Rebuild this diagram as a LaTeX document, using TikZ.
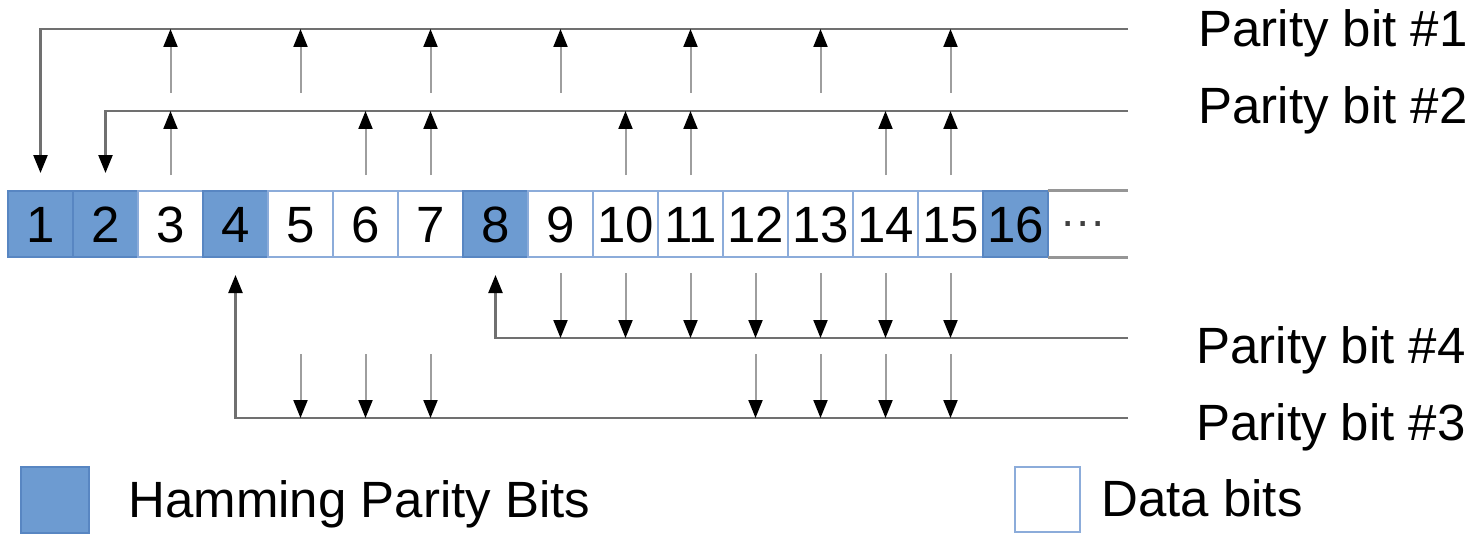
\documentclass[tikz,border=0pt]{standalone}
\usepackage{fontspec}
\setmainfont{Liberation Sans}
\usetikzlibrary{arrows.meta}
\definecolor{parityfill}{RGB}{109,155,209}
\definecolor{paritydraw}{RGB}{88,134,194}
\definecolor{datadraw}{RGB}{140,172,218}
\definecolor{busgray}{RGB}{112,112,112}
\definecolor{stemgray}{RGB}{158,158,158}
\definecolor{endgray}{RGB}{150,150,150}
\tikzset{
  cellbase/.style={minimum width=32.5pt, minimum height=33pt, inner sep=0pt, line width=0.7pt},
  digits/.style={text height=0.716em, text depth=0pt},
  paritycell/.style={cellbase, digits, fill=parityfill, draw=paritydraw},
  datacell/.style={cellbase, digits, fill=white, draw=datadraw},
  tip/.style={-{Triangle[width=7pt,length=9pt,color=black]}},
  bus/.style={draw=busgray, line width=1.2pt},
  stem/.style={draw=stemgray, line width=1pt, tip},
  label/.style={anchor=base west, inner sep=0pt},
}
\begin{document}
\begin{tikzpicture}[x=0.5pt, y=-0.5pt]
\fontsize{25.5pt}{30pt}\selectfont
\useasboundingbox (0,0) rectangle (1477,535);

% the row of bit cells
\foreach \i in {1,...,16}{
  \pgfmathtruncatemacro{\ispar}{(\i==1)||(\i==2)||(\i==4)||(\i==8)||(\i==16)}
  \ifnum\ispar=1
    \node[paritycell] (c\i) at ({8+65*(\i-0.5)},224) {\i};
  \else
    \node[datacell] (c\i) at ({8+65*(\i-0.5)},224) {\i};
  \fi
}
% open end of the row
\node[minimum width=40pt, minimum height=33pt, inner sep=0pt] (more) at (1088,224) {};
\node[inner sep=0pt, text=black!75, font=\fontsize{23pt}{26pt}\selectfont] (dots) at (1083,229) {···};
\draw[draw=endgray, line width=1.5pt] (more.north west) -- (more.north east);
\draw[draw=endgray, line width=1.5pt] (more.south west) -- (more.south east);

% levels of the bus lines and arrow ends
\coordinate (busA) at (1128,29);
\coordinate (busB) at (1128,111);
\coordinate (busD) at (1128,338);
\coordinate (busC) at (1128,418);
\coordinate (upA) at (0,93);
\coordinate (upB) at (0,175);
\coordinate (tipHi) at (0,173);
\coordinate (tipLo) at (0,275);
\coordinate (dnD) at (0,273);
\coordinate (dnC) at (0,354);

% parity bit 1
\draw[bus, tip] (busA) -- (c1 |- busA) -- (c1 |- tipHi);
\foreach \i in {3,5,7,9,11,13,15}
  \draw[stem] (c\i |- upA) -- (c\i |- busA);
% parity bit 2
\draw[bus, tip] (busB) -- (c2 |- busB) -- (c2 |- tipHi);
\foreach \i in {3,6,7,10,11,14,15}
  \draw[stem] (c\i |- upB) -- (c\i |- busB);
% parity bit 4
\draw[bus, tip] (busD) -- (c8 |- busD) -- (c8 |- tipLo);
\foreach \i in {9,...,15}
  \draw[stem] (c\i |- dnD) -- (c\i |- busD);
% parity bit 3
\draw[bus, tip] (busC) -- (c4 |- busC) -- (c4 |- tipLo);
\foreach \i in {5,6,7,12,13,14,15}
  \draw[stem] (c\i |- dnC) -- (c\i |- busC);

% labels of the parity lines
\node[label] (l1) at (1198,47) {Parity bit \#1};
\node[label] (l2) at (1198,124) {Parity bit \#2};
\node[label] (l4) at (1196,363) {Parity bit \#4};
\node[label] (l3) at (1196,440) {Parity bit \#3};

% legend
\node[cellbase, minimum width=34pt, fill=parityfill, draw=paritydraw] (kp) at (55,500) {};
\node[label] (kpt) at (128,517) {Hamming Parity Bits};
\node[cellbase, minimum width=32.5pt, minimum height=32.5pt, fill=white, draw=datadraw, line width=1pt] (kd) at (1047.5,499.5) {};
\node[label] (kdt) at (1101,516) {Data bits};
\end{tikzpicture}
\end{document}
